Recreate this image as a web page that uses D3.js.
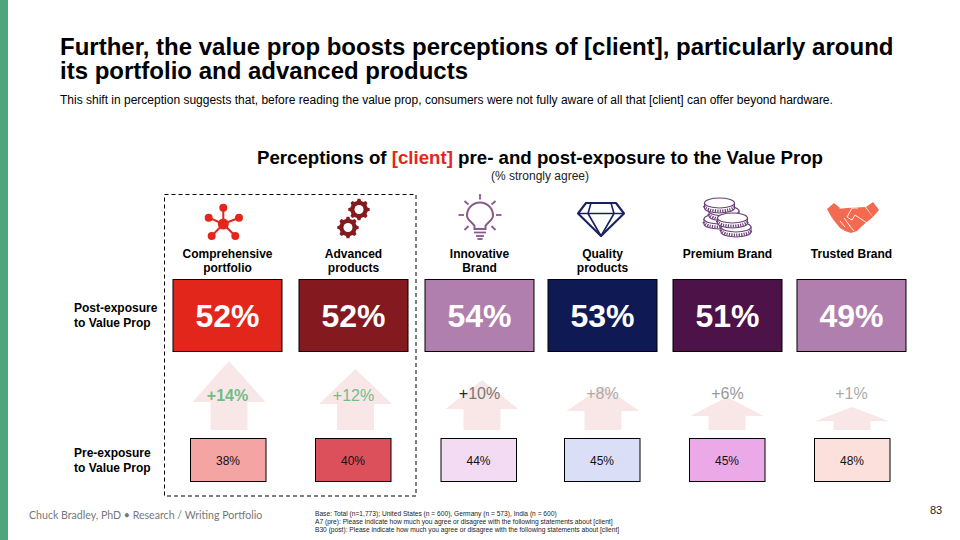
<!DOCTYPE html>
<html>
<head>
<meta charset="utf-8">
<script src="https://d3js.org/d3.v7.min.js"></script>
<style>
html, body { margin: 0; padding: 0; background: #fff; }
svg { display: block; }
text { font-family: "Liberation Sans", Arial, sans-serif; }
</style>
</head>
<body>
<script>
// data
var categories = ["Comprehensive portfolio", "Advanced products", "Innovative Brand", "Quality products", "Premium Brand", "Trusted Brand"];
var labelLines = [["Comprehensive", "portfolio"], ["Advanced", "products"], ["Innovative", "Brand"], ["Quality", "products"], ["Premium Brand"], ["Trusted Brand"]];
var postValues = [52, 52, 54, 53, 51, 49];
var preValues = [38, 40, 44, 45, 45, 48];
var lifts = [14, 12, 10, 8, 6, 1];
var footnotes = [
  "Base: Total  (n=1,773); United States (n = 600), Germany (n = 573), India (n = 600)",
  "A7 (pre): Please indicate how much you agree or disagree with the following statements about [client]",
  "B30 (post): Please indicate how much you agree or disagree with the following statements about [client]"
];

var width = 960, height = 540;

var svg = d3.select("body").append("svg")
  .attr("width", width)
  .attr("height", height)
  .attr("viewBox", [0, 0, width, height]);

// columns are not evenly spaced on the slide, so ordinal rather than band
var x = d3.scaleOrdinal().domain(categories).range([227.5, 353.5, 479.5, 602.5, 727.5, 851.5]);
var xPre = d3.scaleOrdinal().domain(categories).range([228, 353, 478.5, 602, 727, 852]);
var xArrow = d3.scaleOrdinal().domain(categories).range([229, 355.5, 482, 603, 727, 852]);
var postColor = d3.scaleOrdinal().domain(categories).range(["#e3261b", "#841a20", "#b07fae", "#0f1a55", "#4d1248", "#b07fae"]);
var preColor = d3.scaleOrdinal().domain(categories).range(["#f4a4a2", "#dc505b", "#f4dbf4", "#dadff7", "#eca9e8", "#fbe0db"]);
var liftColor = d3.scaleOrdinal().domain(categories).range(["#6fbd88", "#6fbd88", "#777777", "#ababab", "#999999", "#ababab"]);
var plusColor = d3.scaleOrdinal().domain(categories).range(["#6fbd88", "#6fbd88", "#222222", "#ababab", "#999999", "#ababab"]);

// arrow size grows with the lift
var arrowHeight = d3.scaleLinear().domain([1, 6, 8, 10, 12, 14]).range([23, 33, 44, 50, 61, 69]);
var arrowHead = d3.scaleLinear().domain([1, 6, 8, 10, 12, 14]).range([14, 19, 25, 29, 35, 41]);

// side bar
svg.append("rect").attr("x", 0).attr("y", 0).attr("width", 8).attr("height", height).attr("fill", "#4fa67b");

// titles
var title = svg.append("g").attr("font-weight", "bold").attr("font-size", 24).attr("fill", "#000");
title.append("text").attr("x", 60).attr("y", 55).text("Further, the value prop boosts perceptions of [client], particularly around");
title.append("text").attr("x", 60).attr("y", 79).text("its portfolio and advanced products");

svg.append("text").attr("x", 60).attr("y", 104).attr("font-size", 12).attr("fill", "#000")
  .text("This shift in perception suggests that, before reading the value prop, consumers were not fully aware of all that [client] can offer beyond hardware.");

var chartTitle = svg.append("text").attr("x", 540).attr("y", 164).attr("text-anchor", "middle")
  .attr("font-weight", "bold").attr("font-size", 18.66).attr("fill", "#000");
chartTitle.append("tspan").text("Perceptions of ");
chartTitle.append("tspan").attr("fill", "#e3261b").text("[client]");
chartTitle.append("tspan").text(" pre- and post-exposure to the Value Prop");

svg.append("text").attr("x", 540).attr("y", 180).attr("text-anchor", "middle").attr("font-size", 12).attr("fill", "#222")
  .text("(% strongly agree)");

// dashed highlight round the first two columns
svg.append("rect").attr("x", 164.5).attr("y", 194.5).attr("width", 251.5).attr("height", 301.5)
  .attr("fill", "none").attr("stroke", "#000").attr("stroke-width", 1).attr("stroke-dasharray", "4,3");

// row labels
[["Post-exposure", 312], ["to Value Prop", 327], ["Pre-exposure", 457], ["to Value Prop", 472]].forEach(function(r){
  svg.append("text").attr("x", 74).attr("y", r[1]).attr("font-size", 12).attr("font-weight", "bold").attr("fill", "#000").text(r[0]);
});

// category labels
var labels = svg.append("g").selectAll("text").data(categories).join("text")
  .attr("text-anchor", "middle")
  .attr("font-size", 12)
  .attr("font-weight", "bold")
  .attr("fill", "#000");
labels.selectAll("tspan").data(function(d, i){ return labelLines[i].map(function(l){ return {cat: d, line: l}; }); }).join("tspan")
  .attr("x", function(d){ return x(d.cat); })
  .attr("y", function(d, i){ return 257.5 + i * 14.5; })
  .text(function(d){ return d.line; });

// post boxes
svg.append("g").selectAll("rect").data(categories).join("rect")
  .attr("x", function(d){ return x(d) - 54.5; })
  .attr("y", 279.5)
  .attr("width", 109)
  .attr("height", 72)
  .attr("fill", postColor)
  .attr("stroke", "#000")
  .attr("stroke-width", 1);

svg.append("g").selectAll("text").data(categories).join("text")
  .attr("x", x)
  .attr("y", 327)
  .attr("text-anchor", "middle")
  .attr("font-size", 32)
  .attr("font-weight", "bold")
  .attr("fill", "#fff")
  .text(function(d, i){ return postValues[i] + "%"; });

// lift arrows
var arrowBottom = 430;
svg.append("g").selectAll("path").data(categories).join("path")
  .attr("fill", "#f9e7e7")
  .attr("d", function(d, i){
    var cx = xArrow(d);
    var h = arrowHeight(lifts[i]);
    var head = arrowHead(lifts[i]);
    var tip = arrowBottom - h;
    var shoulder = tip + head;
    return "M" + cx + "," + tip + "L" + (cx + 36.5) + "," + shoulder + "L" + (cx + 18.5) + "," + shoulder +
      "L" + (cx + 18.5) + "," + arrowBottom + "L" + (cx - 18.5) + "," + arrowBottom +
      "L" + (cx - 18.5) + "," + shoulder + "L" + (cx - 36.5) + "," + shoulder + "Z";
  });

var liftLabel = svg.append("g").selectAll("text").data(categories).join("text")
  .attr("x", x)
  .attr("y", function(d, i){ return i < 2 ? 401 : 399; })
  .attr("text-anchor", "middle")
  .attr("font-size", 16)
  .attr("font-weight", function(d, i){ return i === 0 ? "bold" : "normal"; })
  .attr("fill", liftColor);
liftLabel.append("tspan").attr("fill", plusColor).text("+");
liftLabel.append("tspan").text(function(d, i){ return lifts[i] + "%"; });

// pre boxes
svg.append("g").selectAll("rect").data(categories).join("rect")
  .attr("x", function(d){ return xPre(d) - 37.5; })
  .attr("y", 438.5)
  .attr("width", 75.5)
  .attr("height", 43)
  .attr("fill", preColor)
  .attr("stroke", "#000")
  .attr("stroke-width", 1);

svg.append("g").selectAll("text").data(categories).join("text")
  .attr("x", xPre)
  .attr("y", 465)
  .attr("text-anchor", "middle")
  .attr("font-size", 12)
  .attr("fill", "#111")
  .text(function(d, i){ return preValues[i] + "%"; });

// footer
svg.append("text").attr("x", 29).attr("y", 519).attr("font-size", 10.6).attr("fill", "#777")
  .style("font-family", "Lato").text("Chuck Bradley, PhD \u2022 Research / Writing Portfolio");

svg.append("g").selectAll("text").data(footnotes).join("text")
  .attr("x", 315)
  .attr("y", function(d, i){ return 515.5 + i * 8.2; })
  .attr("font-size", 6.65)
  .attr("fill", "#222")
  .text(function(d){ return d; });

svg.append("text").attr("x", 930).attr("y", 514).attr("font-size", 11).attr("fill", "#222").text("83");

// icons
function gearPath(cx, cy, outer, inner, teeth){
  var pts = [];
  var step = Math.PI * 2 / teeth;
  for (var i = 0; i < teeth; i++){
    var a = i * step;
    pts.push([cx + inner * Math.cos(a - step * 0.30), cy + inner * Math.sin(a - step * 0.30)]);
    pts.push([cx + outer * Math.cos(a - step * 0.16), cy + outer * Math.sin(a - step * 0.16)]);
    pts.push([cx + outer * Math.cos(a + step * 0.16), cy + outer * Math.sin(a + step * 0.16)]);
    pts.push([cx + inner * Math.cos(a + step * 0.30), cy + inner * Math.sin(a + step * 0.30)]);
  }
  return d3.line()(pts) + "Z";
}

// network
var net = svg.append("g").attr("fill", "#e3261b").attr("stroke", "#e3261b");
[[223.3, 207.7], [208.7, 217.7], [239, 217.7], [211.7, 236], [235.3, 236]].forEach(function(p){
  net.append("line").attr("x1", 223.3).attr("y1", 224).attr("x2", p[0]).attr("y2", p[1]).attr("stroke-width", 2);
  net.append("circle").attr("cx", p[0]).attr("cy", p[1]).attr("r", 4).attr("stroke", "none");
});
net.append("circle").attr("cx", 223.3).attr("cy", 224).attr("r", 5.5).attr("stroke", "none");

// gears
var gears = svg.append("g");
[[359, 209.5], [348, 227.5]].forEach(function(c){
  gears.append("path").attr("fill", "#841a20").attr("d", gearPath(c[0], c[1], 10.8, 8.8, 8));
  gears.append("circle").attr("cx", c[0]).attr("cy", c[1]).attr("r", 4.5).attr("fill", "#fff");
});

// bulb
var bulb = svg.append("g").attr("fill", "none").attr("stroke", "#8a5a8e").attr("stroke-width", 1.8);
bulb.append("path").attr("d", "M474.5,229 L474.5,226 C472,222 467,220 467,215.5 A13,13 0 1 1 493,215.5 C493,220 488,222 485.5,226 L485.5,229 Z").attr("stroke-width", 2);
[[480, 194, 480, 199.5], [464.5, 201, 468.5, 204.5], [495.5, 201, 491.5, 204.5], [458.5, 215, 464, 215], [496, 215, 501.5, 215], [464.5, 230, 468.5, 226], [495.5, 230, 491.5, 226]].forEach(function(l){
  bulb.append("line").attr("x1", l[0]).attr("y1", l[1]).attr("x2", l[2]).attr("y2", l[3]);
});
bulb.append("line").attr("x1", 474).attr("y1", 232.5).attr("x2", 486).attr("y2", 232.5);
bulb.append("line").attr("x1", 476).attr("y1", 236).attr("x2", 484).attr("y2", 236);
bulb.append("line").attr("x1", 477.5).attr("y1", 239).attr("x2", 482.5).attr("y2", 239);

// diamond
var gem = svg.append("g").attr("fill", "none").attr("stroke", "#1a2160").attr("stroke-width", 2.1).attr("stroke-linejoin", "round");
gem.append("path").attr("d", "M586,203 L616,203 L624,213.5 L601,236 L578,213.5 Z");
gem.append("path").attr("d", "M579,213.5 L623,213.5 M591,203 L588,213.5 L601,236 L614,213.5 L611,203").attr("stroke-width", 1.6);

// coins, drawn back to front
function coin(g, cx, cy){
  g.append("path").attr("d", "M" + (cx - 15) + "," + cy + "v5 a15,5 0 0 0 30,0 v-5 Z")
    .attr("fill", "#fff").attr("stroke", "#6b3f78").attr("stroke-width", 1.1);
  g.append("path").attr("d", "M" + (cx - 15) + "," + (cy + 3) + " a15,5 0 0 0 30,0")
    .attr("fill", "none").attr("stroke", "#6b3f78").attr("stroke-width", 3).attr("stroke-dasharray", "1.2,1.2");
  g.append("ellipse").attr("cx", cx).attr("cy", cy).attr("rx", 15).attr("ry", 5)
    .attr("fill", "#fff").attr("stroke", "#6b3f78").attr("stroke-width", 1.2);
}
var coins = svg.append("g");
coin(coins, 719, 219);
coin(coins, 724, 211);
coin(coins, 719.5, 203);
coin(coins, 736, 227);
coin(coins, 732.5, 218);

// handshake
var shake = svg.append("g").attr("fill", "#f36a50");
shake.append("path").attr("d", "M827,209 L834,203 L840,208 L832,218 Z");
shake.append("path").attr("d", "M866,207 L873,202 L879,210 L873,217 Z");
shake.append("path").attr("d", "M837,209 L847,208 L865,207 L873,217 L862,226 L857,231 L851,233 L845,231 L840,228 L832,218 Z");
var shakeLines = shake.append("g").attr("fill", "none").attr("stroke", "#fff").attr("stroke-width", 0.9);
shakeLines.append("path").attr("d", "M858,208 L852,208 L847,217 L852,220 L855,215 L867,223");
shakeLines.append("path").attr("d", "M840,221 L845,227 M844,218 L850,226 M849,225 L854,231");
</script>
</body>
</html>
